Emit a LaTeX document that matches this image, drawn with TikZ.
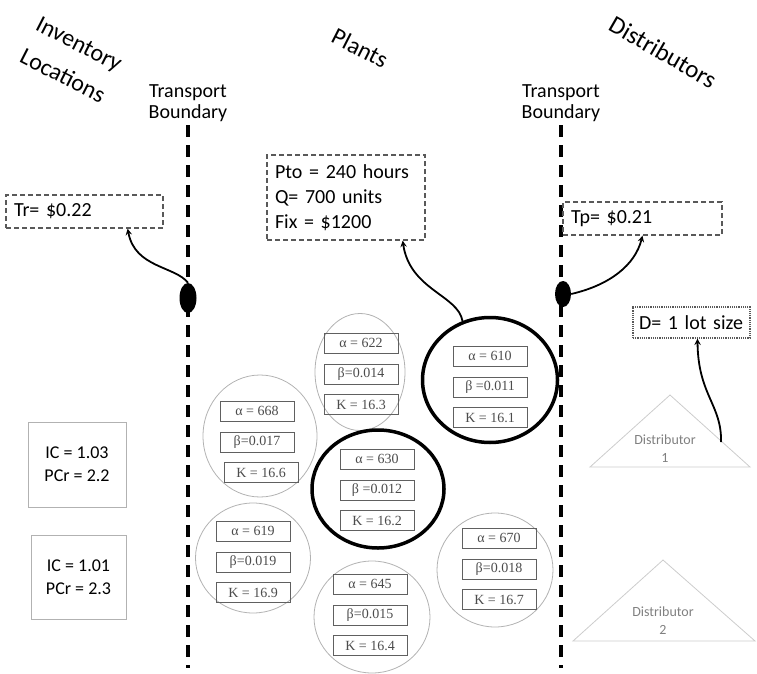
\documentclass[tikz,border=0pt]{standalone}
\usepackage{fontspec}
\setmainfont{Carlito}
\newfontfamily\paramfont{Liberation Serif}
\usepackage{tikz}
\usetikzlibrary{positioning}
\usetikzlibrary{shapes.geometric}

\begin{document}
\begin{tikzpicture}[
    x=1pt, y=-1pt,
    node distance=10pt,
    title/.style={
        rotate=-27,
        align=center,
        font=\fontsize{24}{36}\selectfont
    },
    bndtext/.style={
        align=center,
        font=\fontsize{20}{21}\selectfont
    },
    costbox/.style={
        draw=gray!70!black,
        dash pattern=on 5pt off 3pt,
        line width=1.3pt,
        align=left,
        inner xsep=8pt,
        font=\fontsize{20}{25}\selectfont
    },
    lotbox/.style={
        draw=gray!70!black,
        densely dotted,
        line width=1.2pt,
        align=left,
        inner xsep=6pt,
        font=\fontsize{20}{25}\selectfont
    },
    invbox/.style={
        draw=gray!60,
        line width=1pt,
        align=center,
        font=\fontsize{18}{23}\selectfont
    },
    plant/.style={
        ellipse,
        draw=gray!60,
        line width=0.8pt,
        inner sep=0pt
    },
    opened/.style={
        plant,
        draw=black,
        line width=3.5pt
    },
    parbox/.style={
        draw=gray!75!black,
        line width=0.8pt,
        minimum width=74pt,
        minimum height=20pt,
        inner sep=1pt,
        text=gray!60!black,
        font=\paramfont\fontsize{14}{16}\selectfont
    },
    crossing/.style={
        ellipse,
        fill=black,
        inner sep=0pt
    },
    boundary/.style={
        dash pattern=on 12pt off 8pt,
        line width=3.5pt
    },
    link/.style={
        ->, >=stealth,
        line width=1.8pt
    },
    distri/.style={
        draw=gray!40,
        line width=0.8pt
    },
    disttext/.style={
        align=center,
        text=gray,
        font=\fontsize{14}{18}\selectfont
    }
]
\useasboundingbox (0,0) rectangle (757,674);

% Titles
\node[title] (inv) at (71,60) {Inventory\\Locations};
\node[title] (plants) at (360,48) {Plants};
\node[title, rotate=-3, font=\fontsize{25}{36}\selectfont] (dists) at (663,52) {Distributors};

% Transport boundaries
\node[bndtext] (tbl) at (188,103) {Transport\\Boundary};
\node[bndtext] (tbr) at (561,103) {Transport\\Boundary};
\draw[boundary] (tbl.south) -- (tbl.south |- 0,668);
\draw[boundary] (tbr.south) -- (tbr.south |- 0,668);
\node[crossing, minimum width=17pt, minimum height=30pt] (crl) at (188,298) {};
\node[crossing, minimum width=16pt, minimum height=26pt] (crr) at (563,294) {};

% Cost boxes
\node[costbox, text width=141pt, minimum height=33pt] (tr) at (84.5,211.5) {Tr= \$0.22};
\node[costbox, text width=142pt, minimum height=85pt] (pto) at (346,197.5) {Pto = 240 hours\\Q= 700 units\\Fix = \$1200};
\node[costbox, text width=143pt, minimum height=33pt] (tp) at (642.5,218.5) {Tp= \$0.21};
\node[lotbox, text width=105pt, minimum height=31pt] (lot) at (691.5,322.5) {D= 1 lot size};

% Inventory locations
\node[invbox, minimum width=98pt, minimum height=85pt] (inv1) at (77,464.5) {IC = 1.03\\PCr = 2.2};
\node[invbox, minimum width=95pt, minimum height=84pt] (inv2) at (78.5,577) {IC = 1.01\\PCr = 2.3};

% Plants
\node[plant, minimum width=90pt, minimum height=117pt] (pl1) at (360,372) {};
\node[parbox] (pl1b) at (361,374) {β=0.014};
\node[parbox, above=of pl1b] (pl1a) {α = 622};
\node[parbox, below=of pl1b] (pl1k) {K = 16.3};

\node[plant, minimum width=114pt, minimum height=122pt] (pl2) at (260,436) {};
\node[parbox] (pl2b) at (257,442) {β=0.017};
\node[parbox, above=of pl2b] (pl2a) {α = 668};
\node[parbox, below=of pl2b, xshift=4pt] (pl2k) {K = 16.6};

\node[opened, minimum width=135pt, minimum height=125pt] (pl3) at (490,380) {};
\node[parbox] (pl3b) at (490,387) {β =0.011};
\node[parbox, above=of pl3b] (pl3a) {α = 610};
\node[parbox, below=of pl3b] (pl3k) {K = 16.1};

\node[opened, minimum width=132pt, minimum height=118pt] (pl4) at (378,489) {};
\node[parbox] (pl4b) at (377,490) {β =0.012};
\node[parbox, above=of pl4b] (pl4a) {α = 630};
\node[parbox, below=of pl4b] (pl4k) {K = 16.2};

\node[plant, minimum width=115pt, minimum height=110pt] (pl5) at (253,558) {};
\node[parbox] (pl5b) at (253,562) {β=0.019};
\node[parbox, above=of pl5b] (pl5a) {α = 619};
\node[parbox, below=of pl5b] (pl5k) {K = 16.9};

\node[plant, minimum width=116pt, minimum height=112pt] (pl6) at (372,617) {};
\node[parbox] (pl6b) at (370,615) {β=0.015};
\node[parbox, above=of pl6b] (pl6a) {α = 645};
\node[parbox, below=of pl6b] (pl6k) {K = 16.4};

\node[plant, minimum width=116pt, minimum height=114pt] (pl7) at (495,570) {};
\node[parbox] (pl7b) at (499,569) {β=0.018};
\node[parbox, above=of pl7b] (pl7a) {α = 670};
\node[parbox, below=of pl7b] (pl7k) {K = 16.7};

% Distributors
\draw[distri] (590,467) -- (670,395) -- (750,467) -- cycle;
\node[disttext] (dist1) at (665,449) {Distributor\\1};
\coordinate (d1side) at (721,442);
\draw[distri] (573,641) -- (663,560) -- (755,641) -- cycle;
\node[disttext] (dist2) at (663,621) {Distributor\\2};

% Arrows
\draw[link] (crl.north) .. controls (175,266) and (135,268) .. ([xshift=-36pt]tr.south east);
\draw[link] (pl3.115) .. controls (458,295) and (410,290) .. ([xshift=-23pt]pto.south east);
\draw[link] (crr.east) .. controls (610,285) and (635,265) .. (tp.south);
\draw[link] (d1side) .. controls (722,405) and (698,395) .. ([xshift=6pt]lot.south);

\end{tikzpicture}
\end{document}
